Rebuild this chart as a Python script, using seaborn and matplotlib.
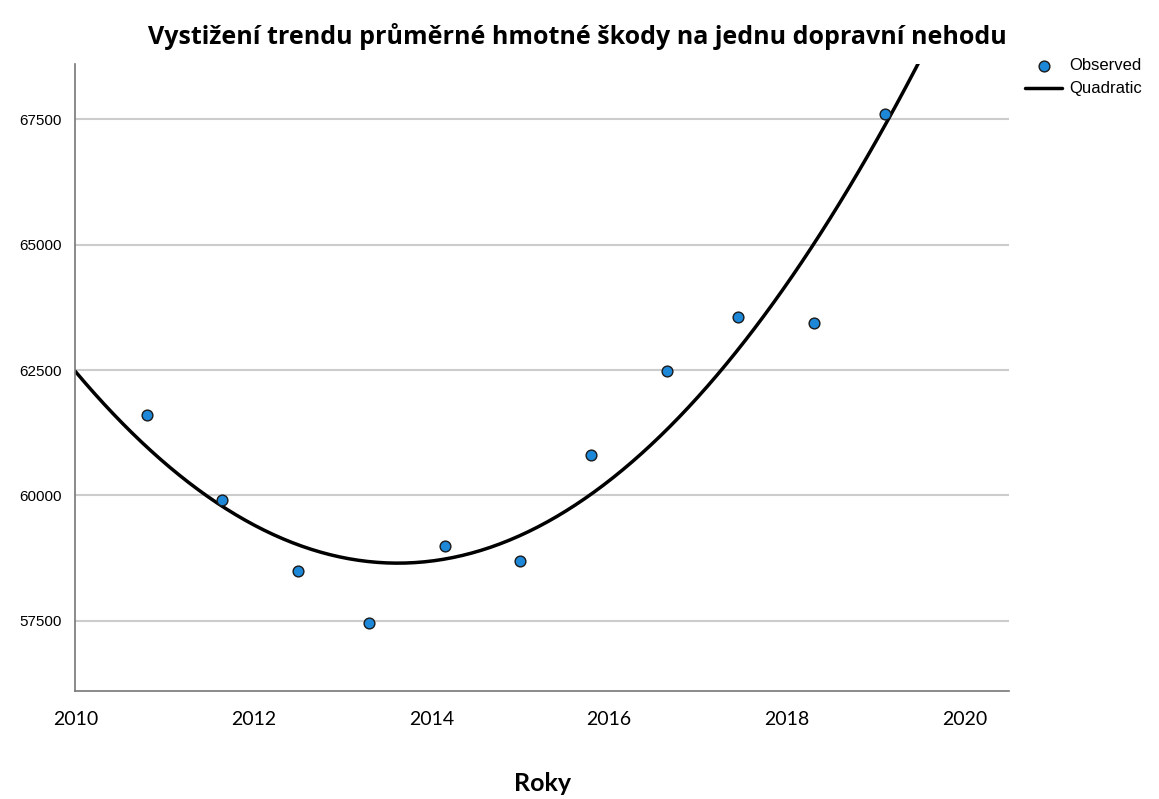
import matplotlib
matplotlib.use('Agg')
import matplotlib.pyplot as plt
import seaborn as sns
import pandas as pd

# hodnoty
roky = [2010.8, 2011.65, 2012.5, 2013.3, 2014.15, 2015.0, 2015.8, 2016.65, 2017.45, 2018.3, 2019.1]
skoda = [61600, 59900, 58500, 57450, 59000, 58700, 60800, 62480, 63560, 63440, 67600]
y_ticks = [57500, 60000, 62500, 65000, 67500]
x_ticks = [2010, 2012, 2014, 2016, 2018, 2020]

df = pd.DataFrame({'rok': roky, 'skoda': skoda})

sns.set_style('white')
plt.rcParams['font.family'] = ['Liberation Sans', 'DejaVu Sans']
plt.rcParams['text.color'] = 'black'
plt.rcParams['xtick.color'] = 'black'
plt.rcParams['ytick.color'] = 'black'
plt.rcParams['axes.labelcolor'] = 'black'

fig = plt.figure(figsize=(11.59, 7.99), dpi=100)
ax = fig.add_axes([0.065, 0.135, 0.806, 0.785])
ax.set_xlim(2010, 2020.5)
ax.set_ylim(56100, 68600)

# mřížka jen vodorovně
ax.set_yticks(y_ticks)
ax.set_xticks(x_ticks)
ax.grid(axis='y', color='#cccccc', linewidth=1.5)
ax.set_axisbelow(True)

# kvadratický trend
sns.regplot(data=df, x='rok', y='skoda', order=2, ci=None, scatter=False,
            truncate=False, color='black', line_kws={'linewidth': 2.5},
            ax=ax, label='Quadratic')
sns.scatterplot(data=df, x='rok', y='skoda', color='#1e88d8', edgecolor='#1a1a1a',
                linewidth=1, s=60, ax=ax, label='Observed', zorder=5)

for s in ['top', 'right']:
    ax.spines[s].set_visible(False)
for s in ['left', 'bottom']:
    ax.spines[s].set_color('#777777')
    ax.spines[s].set_linewidth(1.2)

ax.tick_params(axis='both', length=0)
ax.tick_params(axis='y', labelsize=11, pad=10)
ax.tick_params(axis='x', labelsize=14, pad=14)
for t in ax.get_xticklabels():
    t.set_family('Lato')

ax.set_ylabel('')
ax.set_xlabel('Roky', fontsize=18, fontweight='bold', family='Lato', labelpad=32)
ax.set_title('Vystižení trendu průměrné hmotné škody na jednu dopravní nehodu',
             fontsize=18, fontweight='bold', family='Open Sans', pad=14, x=0.537)

h, l = ax.get_legend_handles_labels()
order = [l.index('Observed'), l.index('Quadratic')]
ax.legend([h[i] for i in order], [l[i] for i in order], loc='upper left',
          bbox_to_anchor=(1.01, 1.02), frameon=False, fontsize=12,
          handlelength=2.2, handletextpad=0.4, borderaxespad=0)

plt.savefig('out.png', dpi=100)
